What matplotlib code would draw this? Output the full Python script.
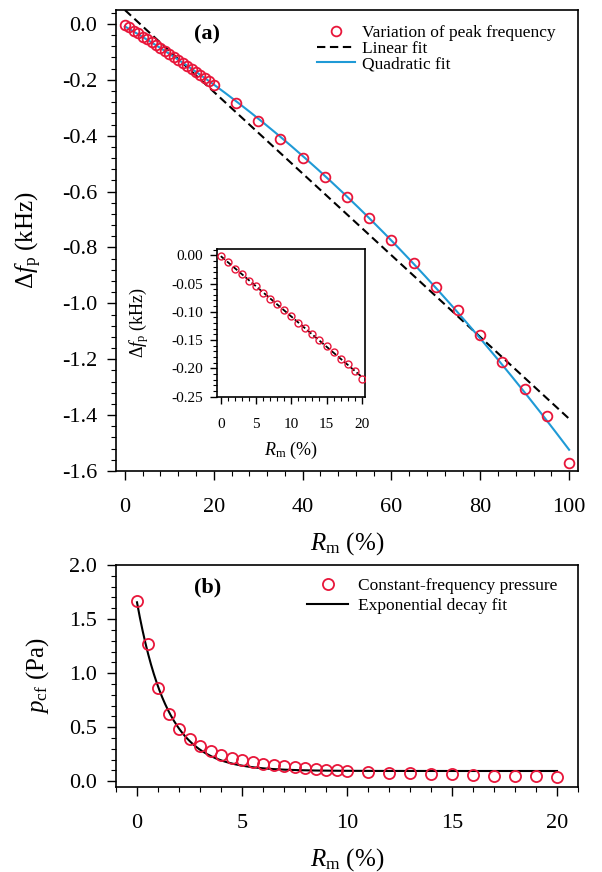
import numpy as np
import matplotlib
matplotlib.use("Agg")
import matplotlib.pyplot as plt
from matplotlib.ticker import MultipleLocator, FormatStrFormatter

plt.rcParams['font.family'] = ['Liberation Serif', 'DejaVu Serif']
plt.rcParams['mathtext.fontset'] = 'custom'
plt.rcParams['mathtext.rm'] = 'Liberation Serif'
plt.rcParams['mathtext.it'] = 'Liberation Serif:italic'
plt.rcParams['mathtext.bf'] = 'Liberation Serif:bold'
plt.rcParams['axes.unicode_minus'] = False

# (a) зсув пікової частоти
rm_a = [0, 1, 2, 3, 4, 5, 6, 7, 8, 9, 10, 11, 12, 13, 14, 15, 16, 17, 18, 19, 20,
        25, 30, 35, 40, 45, 50, 55, 60, 65, 70, 75, 80, 85, 90, 95, 100]
dfp = [-0.002, -0.012, -0.0235, -0.034, -0.045, -0.055, -0.066, -0.0766, -0.087,
       -0.097, -0.108, -0.119, -0.128, -0.140, -0.150, -0.161, -0.171, -0.183,
       -0.193, -0.205, -0.218,
       -0.284, -0.349, -0.410, -0.478, -0.548, -0.620, -0.696, -0.774, -0.855,
       -0.941, -1.024, -1.112, -1.210, -1.306, -1.402, -1.571]

# (b) тиск постійної частоти
rm_b = [0, 0.5, 1, 1.5, 2, 2.5, 3, 3.5, 4, 4.5, 5, 5.5, 6, 6.5, 7, 7.5, 8, 8.5, 9,
        9.5, 10, 11, 12, 13, 14, 15, 16, 17, 18, 19, 20]
pcf = [1.669, 1.268, 0.858, 0.623, 0.481, 0.389, 0.330, 0.278, 0.247, 0.219,
       0.197, 0.179, 0.160, 0.148, 0.139, 0.130, 0.120, 0.111, 0.105, 0.102,
       0.096, 0.086, 0.080, 0.074, 0.071, 0.065, 0.056, 0.049, 0.049, 0.046, 0.040]

# параметри експоненційної апроксимації (з графіка)
exp_y0, exp_A, exp_t = 0.095, 1.56, 1.45

red = '#e8163a'
blue = '#1f9ad6'

x_a = np.array(rm_a, dtype=float)
y_a = np.array(dfp)
lin = np.polyfit(x_a, y_a, 1)
quad = np.polyfit(x_a, y_a, 2)
xx = np.linspace(0, 100, 300)

fig = plt.figure(figsize=(6.02, 8.72), dpi=100)
W, H = 602.0, 872.0

def style_ax(ax, xmaj, xmin, ymaj, ymin, lab, xpad, ypad, tl, tlm):
    ax.xaxis.set_major_locator(MultipleLocator(xmaj))
    ax.xaxis.set_minor_locator(MultipleLocator(xmin))
    ax.yaxis.set_major_locator(MultipleLocator(ymaj))
    ax.yaxis.set_minor_locator(MultipleLocator(ymin))
    ax.tick_params(which='both', direction='out', top=False, right=False)
    ax.tick_params(which='major', length=tl, width=1.0, labelsize=lab)
    ax.tick_params(which='minor', length=tlm, width=0.8)
    ax.tick_params(axis='x', which='major', pad=xpad)
    ax.tick_params(axis='y', which='major', pad=ypad)
    for s in ax.spines.values():
        s.set_linewidth(1.2)

# ---- панель (a)
ax1 = fig.add_axes([116 / W, 1 - 471 / H, 462 / W, 461 / H])
ax1.plot(x_a, y_a, 'o', ms=7, mfc='none', mec=red, mew=1.3, zorder=5,
         label='Variation of peak frequency')
ax1.plot(xx, np.polyval(lin, xx), color='black', lw=1.5, dashes=(4, 2.2),
         label='Linear fit')
ax1.plot(xx, np.polyval(quad, xx), color=blue, lw=1.5, label='Quadratic fit')
ax1.set_xlim(-2, 102)
ax1.set_ylim(-1.6, 0.05)
style_ax(ax1, 20, 4, 0.2, 0.04, 16, 13, 7, 6.5, 3.5)
ax1.yaxis.set_major_formatter(FormatStrFormatter('%.1f'))
ax1.set_xlabel(r'$R_{\rm m}$ (%)', fontsize=18)
ax1.set_ylabel(r'$\Delta f_{\rm p}$ (kHz)', fontsize=18)
ax1.xaxis.set_label_coords(0.5, -0.128)
ax1.yaxis.set_label_coords(-0.155, 0.5)
ax1.text(0.197, 0.946, '(a)', transform=ax1.transAxes, fontsize=16,
         fontweight='bold', ha='center', va='center')
ax1.legend(loc='upper left', bbox_to_anchor=(0.435, 0.968), frameon=False,
           fontsize=12.5, borderpad=0, borderaxespad=0, handlelength=2.2,
           handletextpad=0.4, labelspacing=-0.02)

# ---- вставка
axi = fig.add_axes([217.3 / W, 1 - 396.7 / H, 148 / W, 147.7 / H])
x_i = x_a[:21]
y_i = y_a[:21]
lin_i = np.polyfit(x_i, y_i, 1)
axi.plot(x_i, np.polyval(lin_i, x_i), color='black', lw=1.3, dashes=(3, 1.5))
axi.plot(x_i, y_i, 'o', ms=5, mfc='none', mec=red, mew=1.0, zorder=5)
axi.set_xlim(-0.5, 20.5)
axi.set_ylim(-0.25, 0.011)
style_ax(axi, 5, 1, 0.05, 0.01, 11, 10, 5, 5, 3)
axi.yaxis.set_major_formatter(FormatStrFormatter('%.2f'))
axi.set_xlabel(r'$R_{\rm m}$ (%)', fontsize=13)
axi.set_ylabel(r'$\Delta f_{\rm p}$ (kHz)', fontsize=13)
axi.xaxis.set_label_coords(0.5, -0.29)
axi.yaxis.set_label_coords(-0.45, 0.5)

# ---- панель (b)
ax2 = fig.add_axes([116 / W, 1 - 787 / H, 462 / W, 222 / H])
xb = np.linspace(0, 20, 300)
ax2.plot(rm_b, pcf, 'o', ms=8, mfc='none', mec=red, mew=1.3, zorder=5,
         label='Constant-frequency pressure')
ax2.plot(xb, exp_y0 + exp_A * np.exp(-xb / exp_t), color='black', lw=1.5,
         label='Exponential decay fit')
ax2.set_xlim(-1, 21)
ax2.set_ylim(-0.053, 2.0)
style_ax(ax2, 5, 1, 0.5, 0.1, 16, 13, 7, 6.5, 3.5)
ax2.yaxis.set_major_formatter(FormatStrFormatter('%.1f'))
ax2.set_xlabel(r'$R_{\rm m}$ (%)', fontsize=18)
ax2.set_ylabel(r'$p_{\rm cf}$ (Pa)', fontsize=18)
ax2.xaxis.set_label_coords(0.5, -0.265)
ax2.yaxis.set_label_coords(-0.14, 0.5)
ax2.text(0.199, 0.9, '(b)', transform=ax2.transAxes, fontsize=16,
         fontweight='bold', ha='center', va='center')
ax2.legend(loc='upper left', bbox_to_anchor=(0.413, 0.94), frameon=False,
           fontsize=12.5, borderpad=0, borderaxespad=0, handlelength=2.4,
           handletextpad=0.55, labelspacing=0.2)

fig.savefig('out.png', dpi=100)
